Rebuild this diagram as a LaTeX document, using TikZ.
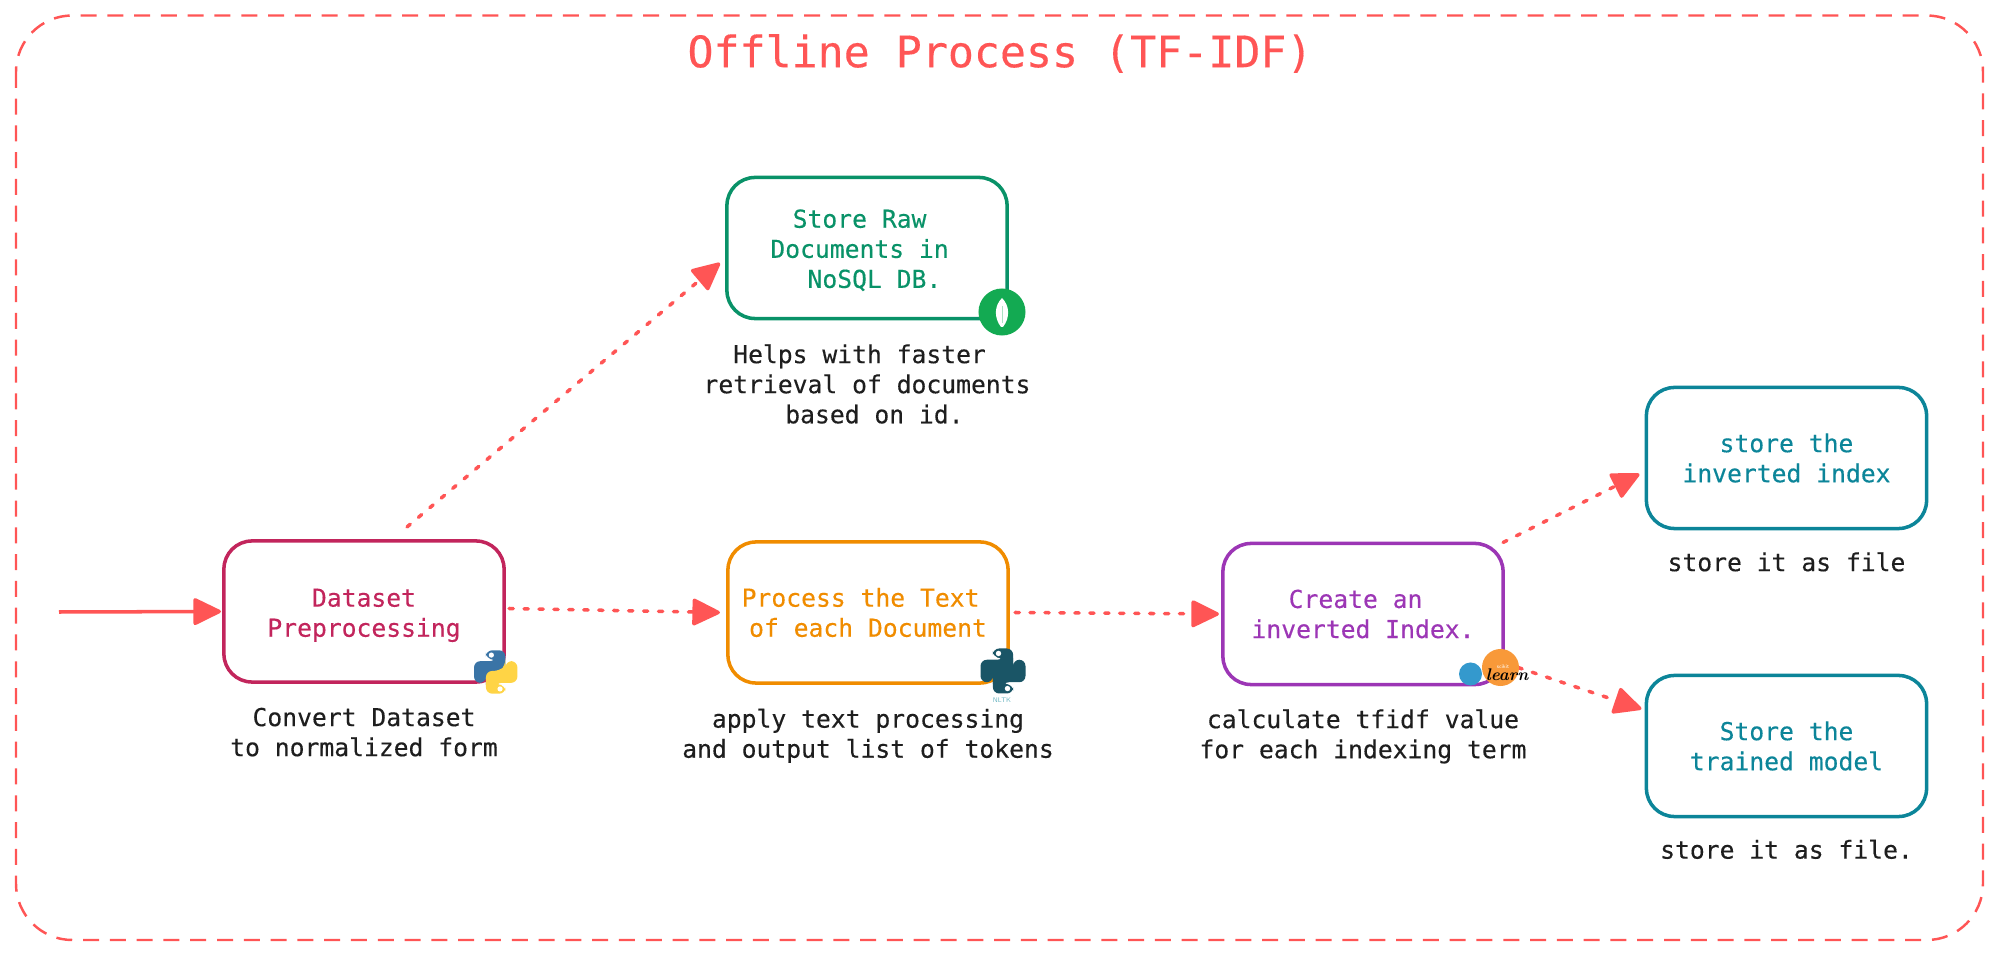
\documentclass[tikz,border=0pt]{standalone}
\usepackage{fontspec}
\setmonofont[FakeBold=0.3]{DejaVu Sans Mono}
\usetikzlibrary{arrows.meta,positioning}
\definecolor{arrowred}{HTML}{FF5555}
\definecolor{inkdark}{HTML}{1E1E1E}
\definecolor{stepred}{HTML}{C2255C}
\definecolor{stepgreen}{HTML}{099268}
\definecolor{steporange}{HTML}{F08C00}
\definecolor{steppurple}{HTML}{9C36B5}
\definecolor{stepteal}{HTML}{0C8599}
\definecolor{pyblue}{HTML}{3A74A6}
\definecolor{pyyellow}{HTML}{FFD445}
\definecolor{nltkteal}{HTML}{1A5566}
\definecolor{mongogreen}{HTML}{13AA52}
\definecolor{skorangefill}{HTML}{F89939}
\definecolor{skbluefill}{HTML}{3499CD}
\newcommand{\topgap}[1]{\rule{0pt}{#1}}
\tikzset{
	stepbox/.style={draw=#1, text=#1, line width=1pt, rounded corners=8pt, minimum width=2.8cm, minimum height=1.41cm, outer sep=0pt, align=center, font=\ttfamily\fontsize{7.02}{8.55}\selectfont},
	caption/.style={text=inkdark, align=center, inner sep=0pt, font=\ttfamily\fontsize{7.02}{8.55}\selectfont},
	headtip/.style={-{Triangle[length=8.5pt,width=8pt,round]}},
	dotarrow/.style={draw=arrowred, line width=1pt, line cap=round, dash pattern=on 1.2pt off 3.05pt, headtip},
	pics/pylogo/.style 2 args={code={
		\fill[#1, rounded corners=1.8pt] (-0.45,-1) -- (0.45,-1) -- (0.45,0.05) -- (-0.2,0.05) -- (-0.45,0.3) -- (-0.45,0.5) -- (-1,0.5) -- (-1,-0.5) -- (0.02,-0.5) -- (0.02,-0.6) -- (-0.45,-0.6) -- cycle;
		\fill[#2, rounded corners=1.8pt] (0.45,1) -- (-0.45,1) -- (-0.45,-0.05) -- (0.2,-0.05) -- (0.45,-0.3) -- (0.45,-0.5) -- (1,-0.5) -- (1,0.5) -- (-0.02,0.5) -- (-0.02,0.6) -- (0.45,0.6) -- cycle;
		\fill[white] (-0.2,-0.78) circle (0.12) (0.2,0.78) circle (0.12);
	}}
}
\begin{document}
\begin{tikzpicture}[x=0.01cm,y=-0.01cm]
	\useasboundingbox (0,0) rectangle (1999,955);
	%frame
	\draw[arrowred, line width=0.7pt, rounded corners=16pt, dash pattern=on 4.55pt off 3.07pt] (16,15.5) rectangle (1983,940);
	\node[text=arrowred, font=\ttfamily\fontsize{12.3}{14}\selectfont] (title) at (1000,53.5) {Offline Process (TF-IDF)};
	%steps
	\node[stepbox=stepred] (dataset) at (364,611.5) {\topgap{7.3pt}Dataset\\Preprocessing};
	\node[stepbox=stepgreen] (rawdocs) at (867,248) {\topgap{6.5pt}Store Raw\phantom{x}\\Documents in\phantom{x}\\\phantom{x}NoSQL DB.};
	\node[stepbox=steporange] (process) at (868,612.5) {Process the Text\phantom{x}\\of each Document};
	\node[stepbox=steppurple] (invindex) at (1363,614) {Create an\phantom{x}\\inverted Index.};
	\node[stepbox=stepteal] (storeindex) at (1786.5,458) {store the\\inverted index};
	\node[stepbox=stepteal] (storemodel) at (1786.5,746) {Store the\\trained model};
	%captions
	\node[caption, below=0.25cm of dataset] (capdataset) {Convert Dataset\\to normalized form};
	\node[caption, below=0.25cm of rawdocs] (caprawdocs) {Helps with faster\phantom{x}\\retrieval of documents\\\phantom{x}based on id.};
	\node[caption, below=0.25cm of process] (capprocess) {apply text processing\\and output list of tokens};
	\node[caption, below=0.24cm of invindex] (capindex) {calculate tfidf value\\for each indexing term};
	\node[caption, below=0.23cm of storeindex] (capstoreindex) {store it as file};
	\node[caption, below=0.225cm of storemodel] (capstoremodel) {store it as file.};
	%arrows
	\coordinate (entry) at (59,612);
	\draw[arrowred, line width=1pt, headtip] (entry) -- ([xshift=-0.03cm]dataset.west);
	\draw[dotarrow] ([xshift=0.43cm,yshift=0.14cm]dataset.north) -- ([xshift=-0.07cm,yshift=-0.15cm]rawdocs.west);
	\draw[dotarrow] ([xshift=0.05cm,yshift=0.03cm]dataset.east) -- ([xshift=-0.08cm]process.west);
	\draw[dotarrow] ([xshift=0.07cm]process.east) -- ([xshift=-0.04cm]invindex.west);
	\draw[dotarrow] ([yshift=0.01cm]invindex.north east) -- ([xshift=-0.07cm,yshift=-0.16cm]storeindex.west);
	\draw[dotarrow] ([xshift=0.15cm,yshift=0.17cm]invindex.south east) -- ([xshift=-0.05cm,yshift=0.37cm]storemodel.west);
	%logos
	\pic[scale=21.7] (pylogo) at (495.7,672) {pylogo={pyblue}{pyyellow}};
	\pic[scale=22.5] (nltklogo) at (1003,671) {pylogo={nltkteal}{nltkteal}};
	\node[text=stepteal!60, inner sep=0pt, font=\sffamily\fontsize{1.9}{2}\selectfont] (nltk) at (1002,700) {NLTK};
	\node[circle, fill=mongogreen, minimum size=0.47cm, inner sep=0pt] (mongo) at (1002,312) {};
	\fill[white] (1002,298) .. controls (1010,306) and (1010,318) .. (1003,327) -- (1001,327) .. controls (994,318) and (994,306) .. (1002,298) -- cycle;
	\fill[mongogreen!35] (1001.6,306) rectangle (1002.4,323);
	\node[circle, fill=skorangefill, minimum size=0.37cm, inner sep=0pt] (skorange) at (1500.5,667.5) {};
	\node[circle, fill=skbluefill, minimum size=0.23cm, inner sep=0pt] (skblue) at (1470.5,674) {};
	\node[text=white, inner sep=0pt, font=\sffamily\fontsize{1.5}{2}\selectfont] (scikit) at (1503,667) {scikit};
	\node[text=black, inner sep=0pt, font=\rmfamily\bfseries\itshape\fontsize{4.8}{5}\selectfont] (learn) at (1507,675) {learn};
\end{tikzpicture}
\end{document}
